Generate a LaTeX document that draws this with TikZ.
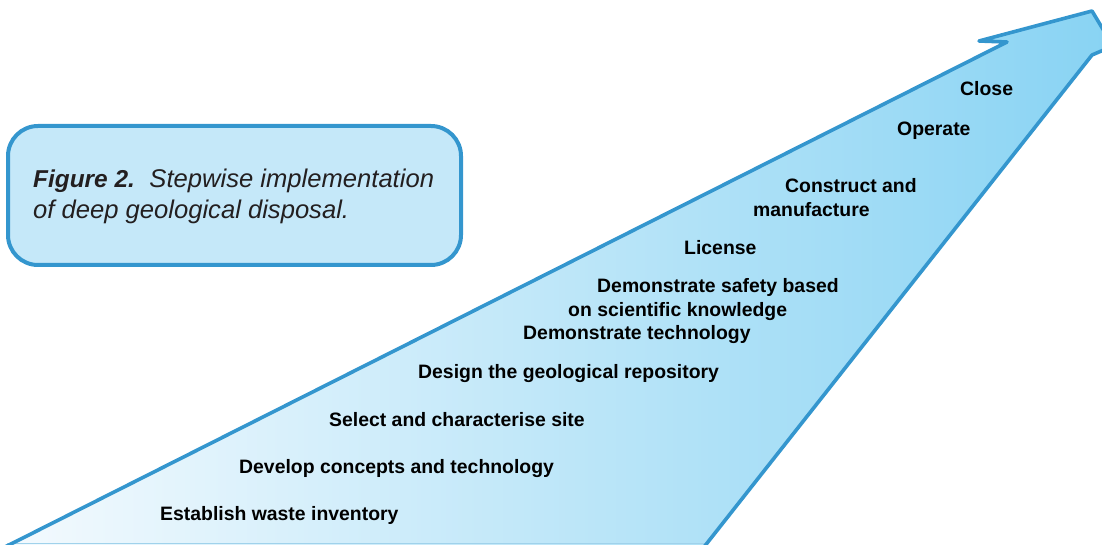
\documentclass[tikz,border=0pt]{standalone}
\usepackage{fontspec}
\setsansfont{Liberation Sans}
\definecolor{arrowblue}{RGB}{52,150,206}
\definecolor{arrowpale}{RGB}{244,250,254}
\definecolor{arrowdeep}{RGB}{136,211,243}
\definecolor{boxfill}{RGB}{197,232,249}
\definecolor{edgepale}{RGB}{160,210,235}
\definecolor{captext}{RGB}{35,31,32}
\tikzset{
  stage/.style={anchor=base west, inner sep=0pt,
    font=\sffamily\bfseries\fontsize{19.4}{22}\selectfont},
  capline/.style={anchor=base west, inner sep=0pt, text=captext,
    font=\sffamily\itshape\fontsize{25.6}{30}\selectfont},
  outline/.style={draw=arrowblue, line width=3.6pt, line join=round}
}

\begin{document}
\begin{tikzpicture}[x=1pt, y=1pt]
	  \useasboundingbox (0,0) rectangle (1102,544);
	  % corners of the big arrow
	  \coordinate (foot) at (5,-3);
	  \coordinate (notch) at (1007,502);
	  \coordinate (barb) at (979,503);
	  \coordinate (apex) at (1092,533);
	  \coordinate (rbarb) at (1113,498);
	  \coordinate (rnotch) at (1092,489);
	  \coordinate (heel) at (704,-3);
	  \fill [left color=arrowpale, right color=arrowdeep] (foot) -- (notch) -- (barb) -- (apex) -- (rbarb) -- (rnotch) -- (heel) -- cycle;
	  \draw [edgepale, line width=1pt] (7,1) -- (706,1);
	  \draw [outline] (foot) -- (notch) -- (barb) -- (apex) -- (rbarb) -- (rnotch) -- (heel);
	  % caption box
	  \node [draw=arrowblue, line width=4pt, fill=boxfill, rounded corners=30pt, minimum width=453pt, minimum height=139pt] (capbox) at (234.5,348.5) {};
	  \node [capline] (cap1) at (33,356.3) {{\fontsize{24.4}{30}\selectfont\bfseries Figure 2.}\hspace{0.2em} Stepwise implementation};
	  \node [capline] (cap2) at (33,325.7) {of deep geological disposal.};
	  % the steps
	  \node [stage] (close) at (960,448) {Close};
	  \node [stage] (operate) at (897,408) {Operate};
	  \node [stage] (construct) at (785,351) {Construct and};
	  \node [stage] (manufacture) at (753,327) {manufacture};
	  \node [stage] (license) at (684,289) {License};
	  \node [stage] (safety) at (597,251.3) {Demonstrate safety based};
	  \node [stage] (knowledge) at (568,228) {on scientific knowledge};
	  \node [stage] (technology) at (523,205) {Demonstrate technology};
	  \node [stage] (design) at (418,166) {Design the geological repository};
	  \node [stage] (site) at (329,117.3) {Select and characterise site};
	  \node [stage] (concepts) at (239,71) {Develop concepts and technology};
	  \node [stage] (inventory) at (160,24) {Establish waste inventory};
	 \end{tikzpicture}
\end{document}
